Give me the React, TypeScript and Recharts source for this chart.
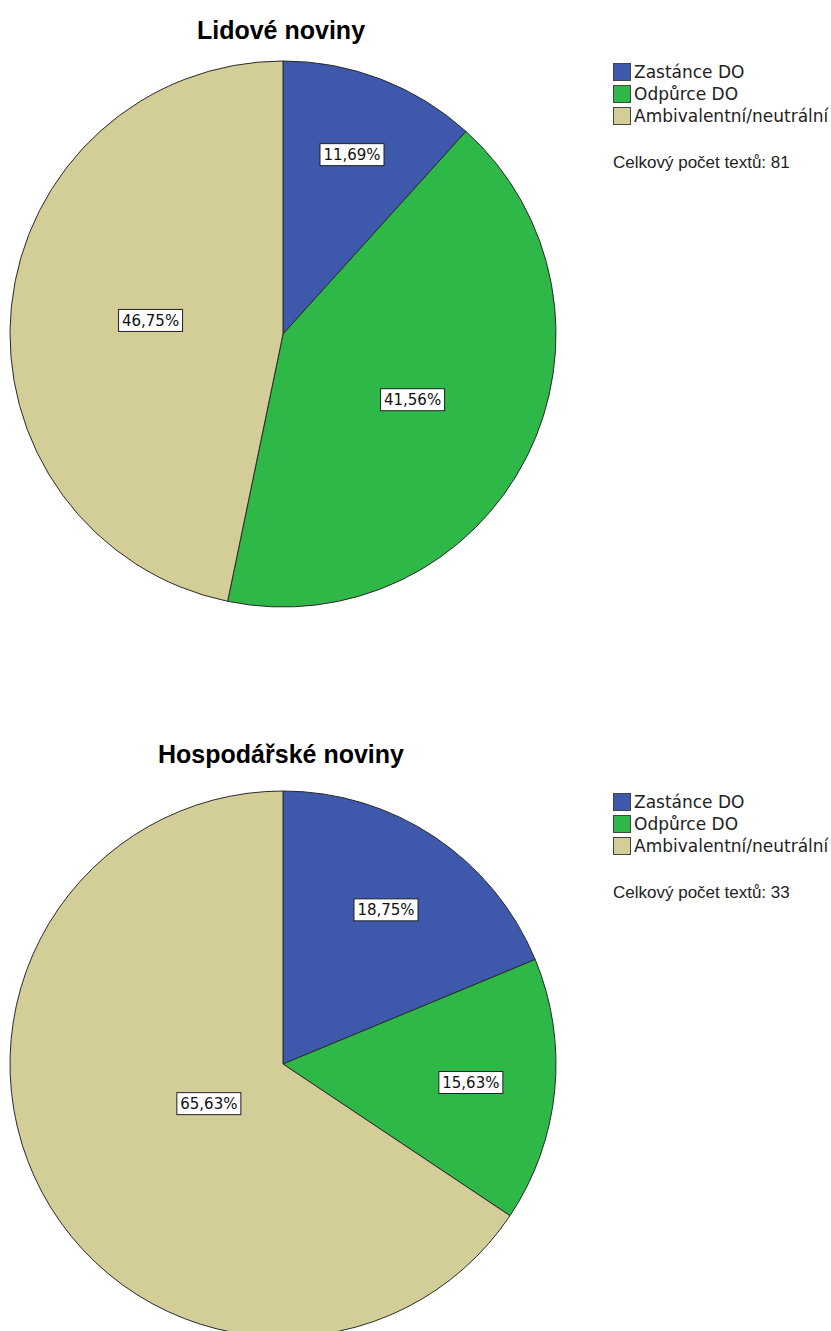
import React from 'react'
import { PieChart, Pie, Cell, Legend } from 'recharts'

const categories = ['Zastánce DO', 'Odpůrce DO', 'Ambivalentní/neutrální']
const colors = ['#3E58AC', '#2EB848', '#D3CE97']

const titles = ['Lidové noviny', 'Hospodářské noviny']
const totals = [81, 33]
const lidoveValues = [11.69, 41.56, 46.75]
const hospodarskeValues = [18.75, 15.63, 65.63]

const W = 831
const CX = 283
const CY = 334
const R = 273

const fmt = (v: number) => v.toFixed(2).replace('.', ',') + '%'

function renderLabel(props: any) {
  const { cx, cy, midAngle, outerRadius, percent, value } = props
  // box sits roughly at the slice centroid
  const a = Math.max(percent * Math.PI, 0.0001)
  const dist = ((2 / 3) * outerRadius * Math.sin(a)) / a * 1.08
  const rad = (Math.PI / 180) * midAngle
  const x = cx + dist * Math.cos(rad)
  const y = cy - dist * Math.sin(rad)
  const bw = 64
  const bh = 22
  return (
    <g>
      <rect x={x - bw / 2} y={y - bh / 2} width={bw} height={bh} fill="#fff" stroke="#222" strokeWidth={1} />
      <text x={x} y={y + 1} textAnchor="middle" dominantBaseline="middle" fontFamily="DejaVu Sans" fontSize={15} fill="#111">
        {fmt(value)}
      </text>
    </g>
  )
}

function LegendBox({ total }: { total: number }) {
  return (
    <div style={{ fontFamily: 'DejaVu Sans', fontSize: 17, color: '#222', lineHeight: '22px' }}>
      {categories.map((c, i) => (
        <div key={c} style={{ display: 'flex', alignItems: 'center', height: 22 }}>
          <span style={{ width: 18, height: 18, background: colors[i], border: '1px solid #444', boxSizing: 'border-box', marginRight: 3, flexShrink: 0 }} />
          <span style={{ whiteSpace: 'nowrap' }}>{c}</span>
        </div>
      ))}
      <div style={{ fontFamily: 'Liberation Sans', fontSize: 17, lineHeight: '19px', marginTop: 26, whiteSpace: 'nowrap' }}>Celkový počet textů: {total}</div>
    </div>
  )
}

function OnePie({ title, values, total, height, titleTop }: { title: string; values: number[]; total: number; height: number; titleTop: number }) {
  const data = categories.map((name, i) => ({ name, value: values[i] }))
  return (
    <div style={{ position: 'relative', width: W, height, overflow: 'hidden' }}>
      <div style={{ position: 'absolute', top: titleTop, left: 0, width: 562, textAlign: 'center', fontFamily: 'Liberation Sans', fontWeight: 'bold', fontSize: 25, lineHeight: '25px', color: '#000', zIndex: 2, whiteSpace: 'nowrap' }}>
        {title}
      </div>
      <PieChart width={W} height={height} margin={{ top: 0, right: 0, bottom: 0, left: 0 }}>
        <Pie
          data={data}
          dataKey="value"
          nameKey="name"
          cx={CX}
          cy={CY}
          outerRadius={R}
          startAngle={90}
          endAngle={-270}
          stroke="#2a2a2a"
          strokeWidth={1}
          label={renderLabel}
          labelLine={false}
          isAnimationActive={false}
        >
          {data.map((d, i) => (
            <Cell key={d.name} fill={colors[i]} />
          ))}
        </Pie>
        <Legend
          layout="vertical"
          verticalAlign="top"
          align="right"
          wrapperStyle={{ left: 613, top: 61, width: 218 }}
          content={() => <LegendBox total={total} />}
        />
      </PieChart>
    </div>
  )
}

export default function App() {
  return (
    <div style={{ position: 'absolute', top: 0, left: 0, width: W, height: 1331, background: '#fff', overflow: 'hidden' }}>
      <OnePie title={titles[0]} values={lidoveValues} total={totals[0]} height={730} titleTop={18} />
      <OnePie title={titles[1]} values={hospodarskeValues} total={totals[1]} height={601} titleTop={12} />
    </div>
  )
}
